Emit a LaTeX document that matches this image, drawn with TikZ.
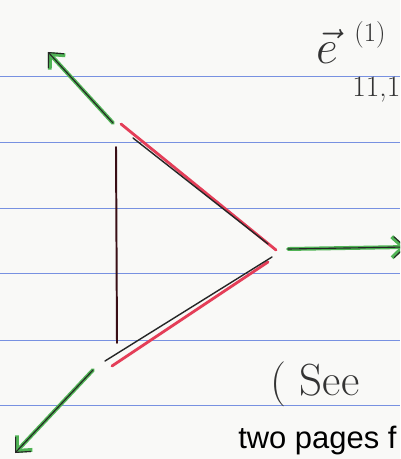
\documentclass[tikz,border=0pt]{standalone}
\usepackage{fix-cm}
\usepackage{fontspec}
\newfontfamily\typedfont{Liberation Sans}
\usetikzlibrary{arrows.meta}
\definecolor{paper}{RGB}{249,249,247}
\definecolor{ruled}{RGB}{120,145,225}
\definecolor{marker}{RGB}{80,180,85}
\definecolor{pen}{RGB}{228,62,88}

\begin{document}
\begin{tikzpicture}[x=0.025cm, y=-0.025cm,
    rule/.style={draw=ruled, line width=0.7pt},
    greenvec/.style={draw=marker, line width=2.8pt, line cap=round,
      -{Straight Barb[length=8pt, width=15pt, line width=2.8pt]}},
    inkvec/.style={draw=black!85, line width=0.8pt, line cap=round,
      -{Straight Barb[length=8pt, width=15pt, line width=0.8pt]}},
    redside/.style={draw=pen, line width=2pt, line cap=round},
    inkside/.style={draw=black!85, line width=1pt, line cap=round},
    hand/.style={inner sep=0pt, text=black!80}
  ]
    \useasboundingbox (0,0) rectangle (400,459);
    \fill[paper] (0,0) rectangle (400,459);
    \clip (0,0) rectangle (400,459);

    \foreach \y in {76,142,208,273,340,405}
      \draw[rule] (0,\y) -- (400,\y);

    \coordinate (ulTail) at (113,123);
    \coordinate (ulTip) at (48,52);
    \coordinate (rTail) at (288,249);
    \coordinate (rTip) at (406,247);
    \coordinate (llTail) at (93,370);
    \coordinate (llTip) at (15,453);

    \coordinate (vTop) at (116,147);
    \coordinate (vBot) at (117,343);
    \coordinate (upA) at (121,124);
    \coordinate (upB) at (276,250);
    \coordinate (upInkA) at (133,138);
    \coordinate (upInkB) at (268,244);
    \coordinate (lowA) at (272,257);
    \coordinate (lowB) at (105,361);
    \coordinate (lowRedA) at (268,262);
    \coordinate (lowRedB) at (112,366);

    \draw[redside] (upA) -- (upB);
    \draw[inkside] (upInkA) -- (upInkB);
    \draw[redside] (lowRedA) -- (lowRedB);
    \draw[inkside] (lowA) -- (lowB);
    \draw[inkside, draw=black!75!pen, line width=1.4pt] (vTop) -- (vBot);

    \draw[greenvec] (ulTail) -- (ulTip);
    \draw[inkvec] (ulTail) -- (ulTip);
    \draw[greenvec] (rTail) -- (rTip);
    \draw[inkvec] (rTail) -- (rTip);
    \draw[greenvec] (llTail) -- (llTip);
    \draw[inkvec] (llTail) -- (llTip);

    \node[hand, font=\fontsize{34}{34}\selectfont] (evec) at (327,46) {$\vec{e}$};
    \node[hand, font=\fontsize{19}{19}\selectfont] (order) at (370,35) {(1)};
    \node[hand, anchor=west, font=\fontsize{21}{21}\selectfont] (index) at (352,90) {11,1};
    \node[hand, anchor=base west, font=\fontsize{32}{32}\selectfont] (see) at (270,395) {( See};
    \node[inner sep=0pt, anchor=base west, font=\typedfont\fontsize{22}{22}\selectfont] (note) at (238,448) {two pages f};
  \end{tikzpicture}
\end{document}
